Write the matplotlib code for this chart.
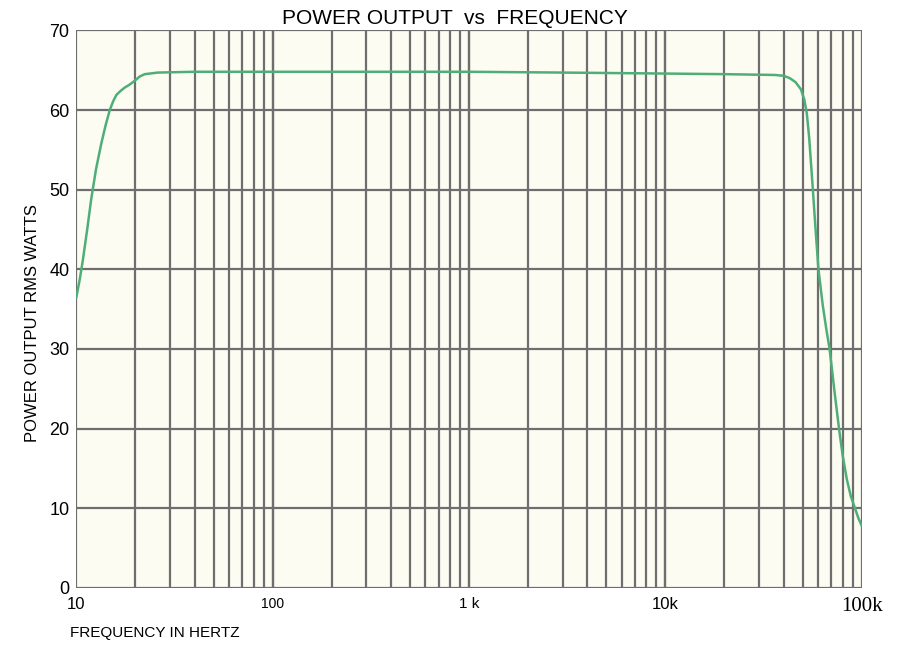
import matplotlib.pyplot as plt

# frequency (Hz) and power output (W rms)
freq = [10, 10.4, 10.8, 11.4, 11.9, 12.6, 13.4, 14.1, 14.8, 15.4, 16.0, 16.8,
        17.6, 18.7, 19.9, 21.0, 22.3, 26, 40, 84, 300, 1000, 3000, 8000,
        20000, 36000, 40000, 43000, 46000, 49000, 51000, 52500, 54000, 56200,
        58000, 60200, 63300, 66000, 68600, 72800, 76600, 80000, 84000, 88000,
        92400, 96000, 100000]
power = [36.5, 38.7, 41.2, 45.3, 48.8, 52.6, 55.8, 58.1, 60.0, 61.1, 61.9,
         62.4, 62.8, 63.2, 63.7, 64.2, 64.5, 64.7, 64.8, 64.8, 64.8, 64.8,
         64.7, 64.6, 64.5, 64.4, 64.3, 64.0, 63.5, 62.6, 61.3, 59.6, 56.5,
         50.5, 45.5, 40.0, 35.5, 32.5, 30.0, 24.5, 20.0, 16.6, 13.6, 11.5,
         10.0, 8.8, 7.8]

xtick_vals = [10, 100, 1000, 10000, 100000]
xtick_text = ['10', '100', '1 k', '10k', '100k']
ytick_vals = [0, 10, 20, 30, 40, 50, 60, 70]

grid_col = '#6e6e6e'
fig = plt.figure(figsize=(9.09, 6.46), dpi=100)
fig.patch.set_facecolor('white')
ax = fig.add_axes([0.084, 0.09, 0.864, 0.863])
ax.set_facecolor('#fcfcf3')
ax.set_xscale('log')
ax.set_xlim(10, 100000)
ax.set_ylim(0, 70)

# vertical grid at 1..9 of each decade
for dec in [10, 100, 1000, 10000]:
    for m in range(1, 11):
        ax.axvline(dec * m, color=grid_col, lw=1.6, zorder=1)
for v in ytick_vals:
    ax.axhline(v, color=grid_col, lw=1.6, zorder=1)

ax.plot(freq, power, color='#4fae78', lw=1.8, zorder=3)

for s in ax.spines.values():
    s.set_visible(False)
ax.tick_params(length=0)
ax.set_yticks(ytick_vals)
ax.set_yticklabels([str(v) for v in ytick_vals], fontsize=13,
                   family='Liberation Sans')
ax.set_xticks(xtick_vals)
ax.set_xticklabels([])
ax.minorticks_off()
ax.tick_params(axis='y', pad=5)

lab_font = {10: ('Liberation Sans', 12), 100: ('Liberation Sans', 10),
            1000: ('Liberation Sans', 11), 10000: ('Liberation Sans', 12),
            100000: ('Liberation Serif', 15)}
for v, t in zip(xtick_vals, xtick_text):
    fam, sz = lab_font[v]
    ax.text(v, -1.2, t, ha='center', va='top', fontsize=sz, family=fam)

fig.text(0.5, 0.971, 'POWER OUTPUT  vs  FREQUENCY', ha='center', va='center',
         fontsize=15, family='Liberation Sans')
fig.text(0.036, 0.5, 'POWER OUTPUT RMS WATTS', rotation=90, ha='center',
         va='center', fontsize=12, family='Liberation Sans')
fig.text(0.077, 0.02, 'FREQUENCY IN HERTZ', ha='left', va='center',
         fontsize=11, family='Liberation Sans')

fig.savefig('out.png', dpi=100)
